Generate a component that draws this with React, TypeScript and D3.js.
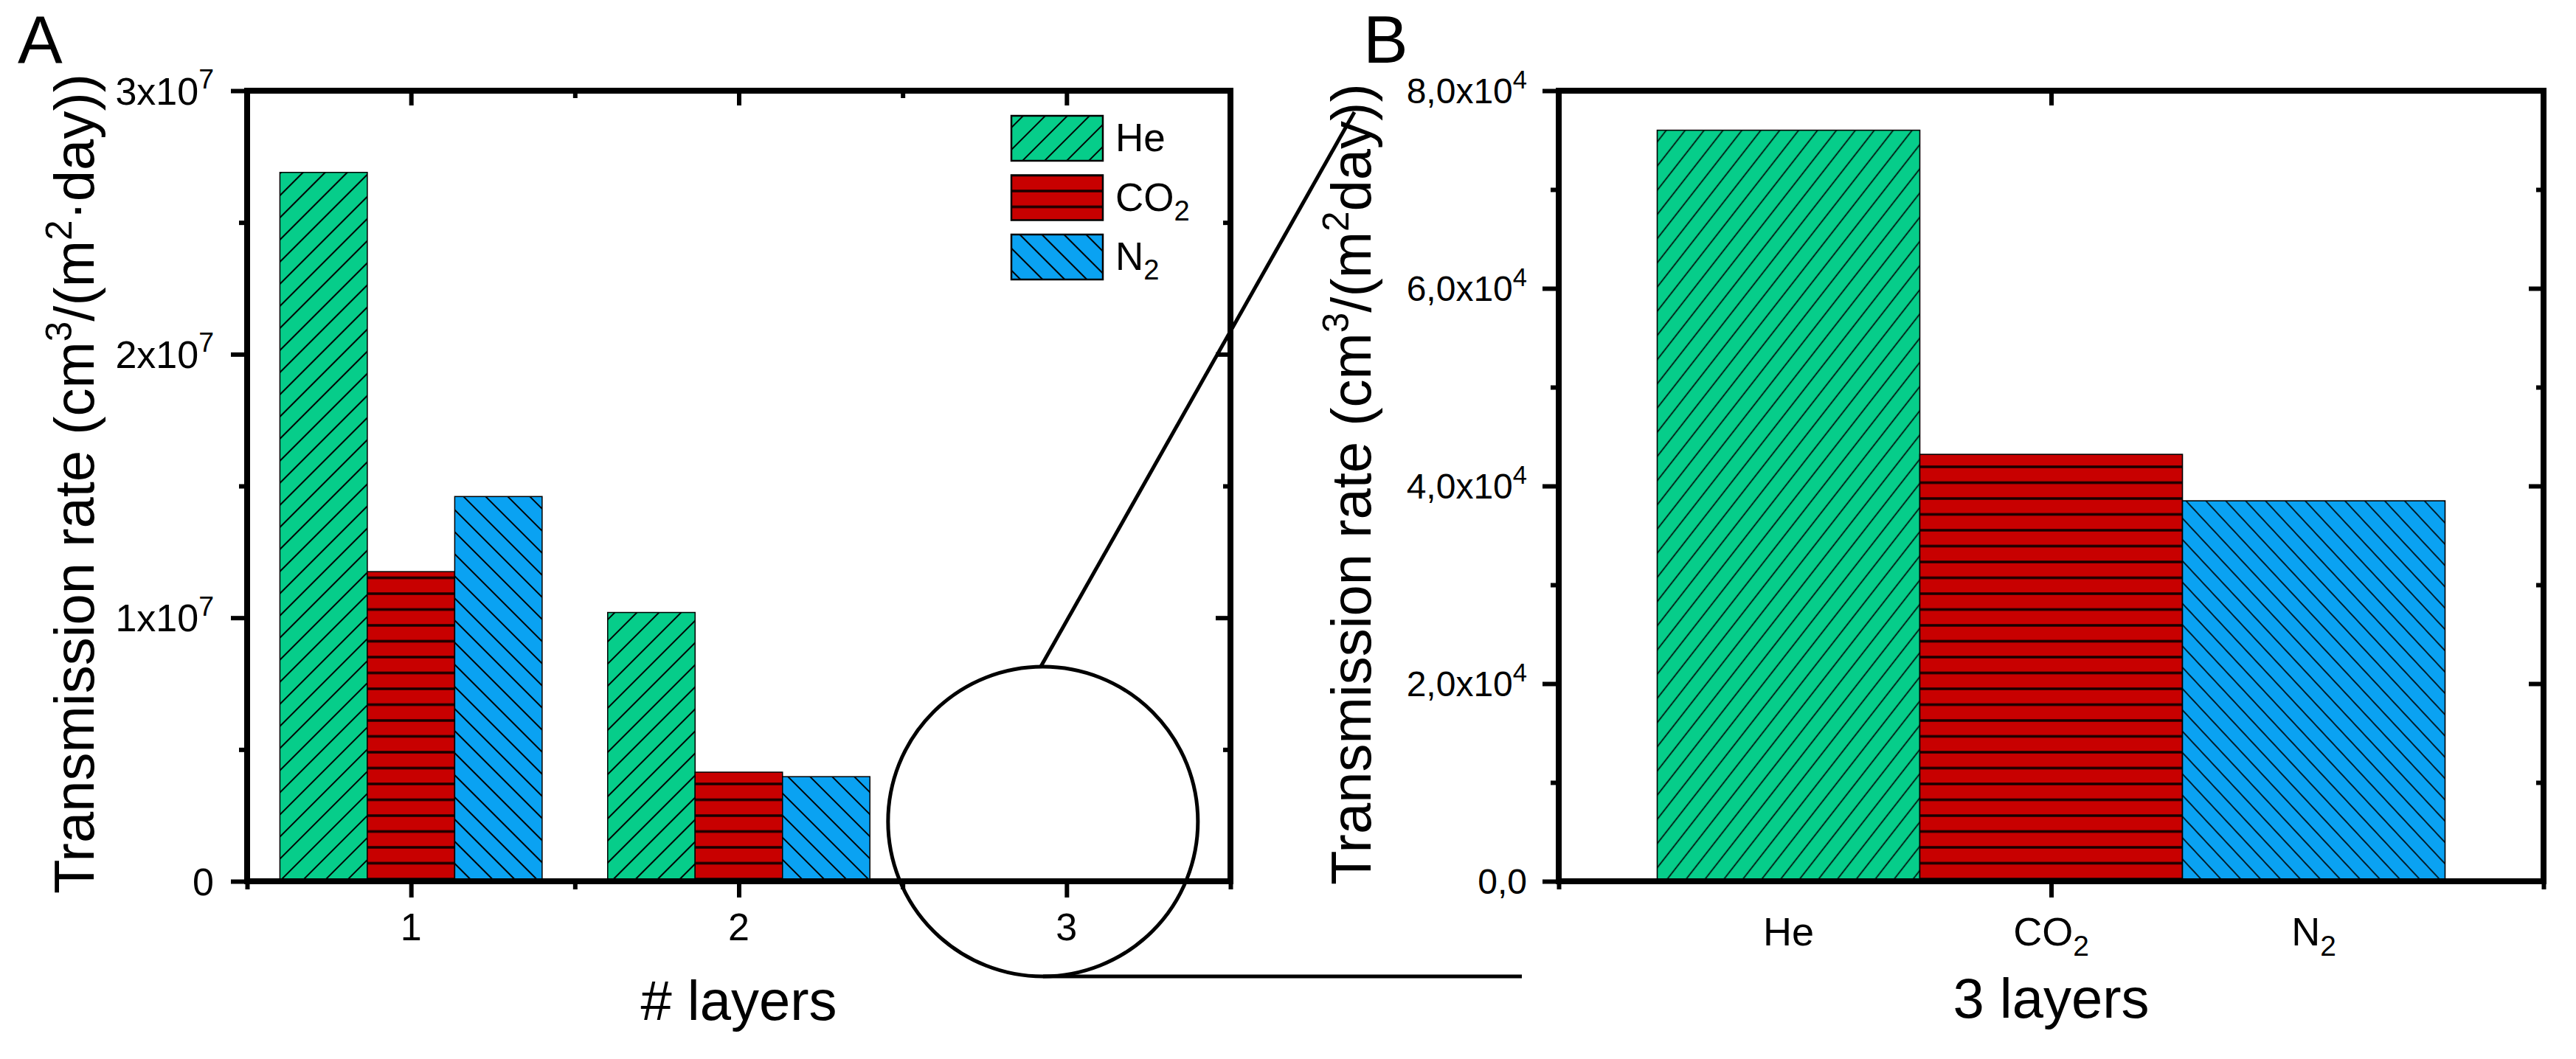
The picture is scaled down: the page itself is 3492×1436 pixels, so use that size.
import React, { useEffect, useRef } from "react";
import * as d3 from "d3";

const W = 3492, H = 1436;

// data
const layers = ["1", "2", "3"];
const gases = ["He", "CO2", "N2"];
const heRate = [2.69e7, 1.02e7, 7.6e4];
const co2Rate = [1.175e7, 4.14e6, 4.32e4];
const n2Rate = [1.46e7, 3.97e6, 3.85e4];

const yTicksA = [0, 1e7, 2e7, 3e7];
const yLabelsA = [["0", ""], ["1x10", "7"], ["2x10", "7"], ["3x10", "7"]];
const yTicksB = [0, 2e4, 4e4, 6e4, 8e4];
const yLabelsB = [["0,0", ""], ["2,0x10", "4"], ["4,0x10", "4"], ["6,0x10", "4"], ["8,0x10", "4"]];
const gasLabels = [["He", ""], ["CO", "2"], ["N", "2"]];
const gasColors = ["#06CD8A", "#C80000", "#0AA2F2"];

const FONT = "'Liberation Sans', Arial, sans-serif";

const App = () => {
  const svgRef = useRef<SVGSVGElement>(null);

  useEffect(() => {
    const svg = d3.select(svgRef.current);
    svg.selectAll("*").remove();

    const top = 123, bottom = 1195;
    const aL = 335, aR = 1668, bL = 2113, bR = 3448;

    const yA = d3.scaleLinear().domain([0, 3e7]).range([bottom, top]);
    const yB = d3.scaleLinear().domain([0, 8e4]).range([bottom, top]);
    const xA = d3.scaleBand().domain(layers).range([aL, aR]).paddingInner(0.2).paddingOuter(0.1);
    const gA = d3.scaleBand().domain(gases).range([0, xA.bandwidth()]);
    const xLinA = d3.scaleLinear().domain([0.5, 3.5]).range([aL, aR]);
    const xB = d3.scaleBand().domain(["3"]).range([bL, bR]).paddingInner(0.2).paddingOuter(0.1);
    const gB = d3.scaleBand().domain(gases).range([0, xB.bandwidth()]);
    const xLinB = d3.scaleLinear().domain([0.5, 1.5]).range([bL, bR]);

    const series = [heRate, co2Rate, n2Rate];

    svg.append("rect").attr("width", W).attr("height", H).attr("fill", "#fff");

    // hatch patterns
    const defs = svg.append("defs");
    const diag = (id, color, s, rot, sw) => {
      const p = defs.append("pattern").attr("id", id)
        .attr("patternUnits", "userSpaceOnUse")
        .attr("width", s).attr("height", s)
        .attr("patternTransform", `rotate(${rot})`);
      p.append("rect").attr("width", s).attr("height", s).attr("fill", color);
      p.append("line").attr("x1", s / 2).attr("x2", s / 2).attr("y1", -2).attr("y2", s + 2)
        .attr("stroke", "#000").attr("stroke-width", sw);
    };
    const horiz = (id, color, h, y0, sw) => {
      const p = defs.append("pattern").attr("id", id)
        .attr("patternUnits", "userSpaceOnUse")
        .attr("x", 0).attr("y", y0 - h / 2)
        .attr("width", 20).attr("height", h);
      p.append("rect").attr("width", 20).attr("height", h).attr("fill", color);
      p.append("line").attr("x1", -1).attr("x2", 21).attr("y1", h / 2).attr("y2", h / 2)
        .attr("stroke", "#1a0000").attr("stroke-width", sw);
    };
    diag("pA-He", gasColors[0], 21.2, 45, 2);
    horiz("pA-CO2", gasColors[1], 21.5, 1192, 3.5);
    diag("pA-N2", gasColors[2], 21.2, -45, 2);
    diag("pB-He", gasColors[0], 20.2, 38, 1.6);
    horiz("pB-CO2", gasColors[1], 21.5, 1192, 3.5);
    diag("pB-N2", gasColors[2], 19.7, -43, 1.6);
    diag("pL-He", gasColors[0], 21.2, 45, 2);
    horiz("pL-CO2", gasColors[1], 21.5, 259, 3.5);
    diag("pL-N2", gasColors[2], 21.2, -45, 2);

    // text helper: base text + optional super/subscript
    const label = (g, x, y, base, extra, size, anchor, mode = "sup") => {
      const t = g.append("text").attr("x", x).attr("y", y)
        .attr("text-anchor", anchor).attr("font-family", FONT)
        .attr("font-size", size).attr("fill", "#000");
      t.append("tspan").text(base);
      if (extra) {
        const shift = mode === "sup" ? -0.42 * size : 0.25 * size;
        t.append("tspan").attr("dy", shift).attr("font-size", size * 0.72).text(extra);
      }
      return t;
    };

    // ---------- panel A bars
    const gBarsA = svg.append("g");
    layers.forEach((layer, li) => {
      gases.forEach((gas, gi) => {
        const v = series[gi][li];
        gBarsA.append("rect")
          .attr("x", xA(layer) + gA(gas))
          .attr("y", yA(v))
          .attr("width", gA.bandwidth())
          .attr("height", yA(0) - yA(v))
          .attr("fill", `url(#pA-${gas})`)
          .attr("stroke", "#000").attr("stroke-width", 1.5);
      });
    });

    // ---------- panel B bars (3 layers)
    const gBarsB = svg.append("g");
    gases.forEach((gas, gi) => {
      const v = series[gi][2];
      gBarsB.append("rect")
        .attr("x", xB("3") + gB(gas))
        .attr("y", yB(v))
        .attr("width", gB.bandwidth())
        .attr("height", yB(0) - yB(v))
        .attr("fill", `url(#pB-${gas})`)
        .attr("stroke", "#000").attr("stroke-width", 1.6);
    });

    // ---------- frames and ticks
    const frame = (l, r) => svg.append("rect")
      .attr("x", l).attr("y", top).attr("width", r - l).attr("height", bottom - top)
      .attr("fill", "none").attr("stroke", "#000").attr("stroke-width", 8);
    frame(aL, aR);
    frame(bL, bR);

    const tickGroup = (axis, tx, ty) => {
      const g = svg.append("g").attr("transform", `translate(${tx},${ty})`)
        .attr("stroke-width", 6).call(axis);
      g.select(".domain").remove();
      g.selectAll("text").remove();
      return g;
    };
    const noFmt = () => "";

    // A: y ticks
    const minorYA = d3.range(0.5e7, 3e7, 1e7);
    tickGroup(d3.axisLeft(yA).tickValues(yTicksA).tickSize(22).tickFormat(noFmt), aL, 0);
    tickGroup(d3.axisLeft(yA).tickValues(minorYA).tickSize(11).tickFormat(noFmt), aL, 0);
    tickGroup(d3.axisLeft(yA).tickValues(yTicksA).tickSize(20).tickFormat(noFmt), aR, 0);
    tickGroup(d3.axisLeft(yA).tickValues(minorYA).tickSize(10).tickFormat(noFmt), aR, 0);
    // A: x ticks
    const majorXA = layers.map((d, i) => i + 1);
    const minorXA = d3.range(0.5, 4, 1);
    tickGroup(d3.axisBottom(xLinA).tickValues(majorXA).tickSize(22).tickFormat(noFmt), 0, bottom);
    tickGroup(d3.axisBottom(xLinA).tickValues(minorXA).tickSize(11).tickFormat(noFmt), 0, bottom);
    tickGroup(d3.axisBottom(xLinA).tickValues(majorXA).tickSize(20).tickFormat(noFmt), 0, top);
    tickGroup(d3.axisBottom(xLinA).tickValues(minorXA).tickSize(10).tickFormat(noFmt), 0, top);

    // B: y ticks
    const minorYB = d3.range(1e4, 8e4, 2e4);
    tickGroup(d3.axisLeft(yB).tickValues(yTicksB).tickSize(22).tickFormat(noFmt), bL, 0);
    tickGroup(d3.axisLeft(yB).tickValues(minorYB).tickSize(11).tickFormat(noFmt), bL, 0);
    tickGroup(d3.axisLeft(yB).tickValues(yTicksB).tickSize(20).tickFormat(noFmt), bR, 0);
    tickGroup(d3.axisLeft(yB).tickValues(minorYB).tickSize(10).tickFormat(noFmt), bR, 0);
    // B: x ticks
    tickGroup(d3.axisBottom(xLinB).tickValues([1]).tickSize(22).tickFormat(noFmt), 0, bottom);
    tickGroup(d3.axisBottom(xLinB).tickValues([0.5, 1.5]).tickSize(11).tickFormat(noFmt), 0, bottom);
    tickGroup(d3.axisBottom(xLinB).tickValues([1]).tickSize(20).tickFormat(noFmt), 0, top);

    // ---------- tick labels
    const gl = svg.append("g");
    yTicksA.forEach((v, i) => {
      label(gl, aL - 45, yA(v) + 0.36 * 52, yLabelsA[i][0], yLabelsA[i][1], 52, "end");
    });
    layers.forEach((d, i) => {
      label(gl, xLinA(i + 1), 1275, d, "", 52, "middle");
    });
    yTicksB.forEach((v, i) => {
      label(gl, bL - 43, yB(v) + 0.36 * 48, yLabelsB[i][0], yLabelsB[i][1], 48, "end");
    });
    gases.forEach((gas, gi) => {
      label(gl, xB("3") + gB(gas) + gB.bandwidth() / 2, 1282,
        gasLabels[gi][0], gasLabels[gi][1], 54, "middle", "sub");
    });

    // ---------- axis titles
    const title = (x, y, dot) => {
      const size = 76;
      const t = gl.append("text")
        .attr("transform", `translate(${x},${y}) rotate(-90)`)
        .attr("font-family", FONT).attr("font-size", size).attr("fill", "#000");
      const sh = 0.4 * size;
      t.append("tspan").text("Transmission rate (cm");
      t.append("tspan").attr("dy", -sh).attr("font-size", size * 0.65).text("3");
      t.append("tspan").attr("dy", sh).text("/(m");
      t.append("tspan").attr("dy", -sh).attr("font-size", size * 0.65).text("2");
      t.append("tspan").attr("dy", sh).text(dot ? "\u00B7day))" : "day))");
    };
    title(127, 1212, true);
    title(1858, 1200, false);

    label(gl, (aL + aR) / 2, 1383, "# layers", "", 76, "middle");
    label(gl, (bL + bR) / 2, 1380, "3 layers", "", 76, "middle");

    // panel letters
    label(gl, 24, 85, "A", "", 91, "start");
    label(gl, 1848, 85, "B", "", 91, "start");

    // ---------- legend (panel A)
    const lg = svg.append("g");
    gases.forEach((gas, gi) => {
      const y0 = 157 + gi * 80.5;
      lg.append("rect").attr("x", 1371).attr("y", y0).attr("width", 124).attr("height", 61)
        .attr("fill", `url(#pL-${gas})`).attr("stroke", "#000").attr("stroke-width", 2.5);
      label(lg, 1512, y0 + 48, gasLabels[gi][0], gasLabels[gi][1], 53, "start", "sub");
    });

    // ---------- zoom annotation: circle around 3 layers, lines to panel B
    const cx = xLinA(3) - 32, cy = yA(0) - 81, r = 210;
    const ann = svg.append("g").attr("stroke", "#000").attr("stroke-width", 5).attr("fill", "none");
    ann.append("circle").attr("cx", cx).attr("cy", cy).attr("r", r);
    ann.append("line").attr("x1", cx - 3).attr("y1", cy - r).attr("x2", 1836).attr("y2", 152);
    ann.append("line").attr("x1", cx).attr("y1", cy + r).attr("x2", 2063).attr("y2", cy + r);
  }, []);

  return (
    <svg
      ref={svgRef}
      width={W}
      height={H}
      style={{ position: "absolute", left: 0, top: 0, display: "block" }}
    />
  );
};

export default App;
